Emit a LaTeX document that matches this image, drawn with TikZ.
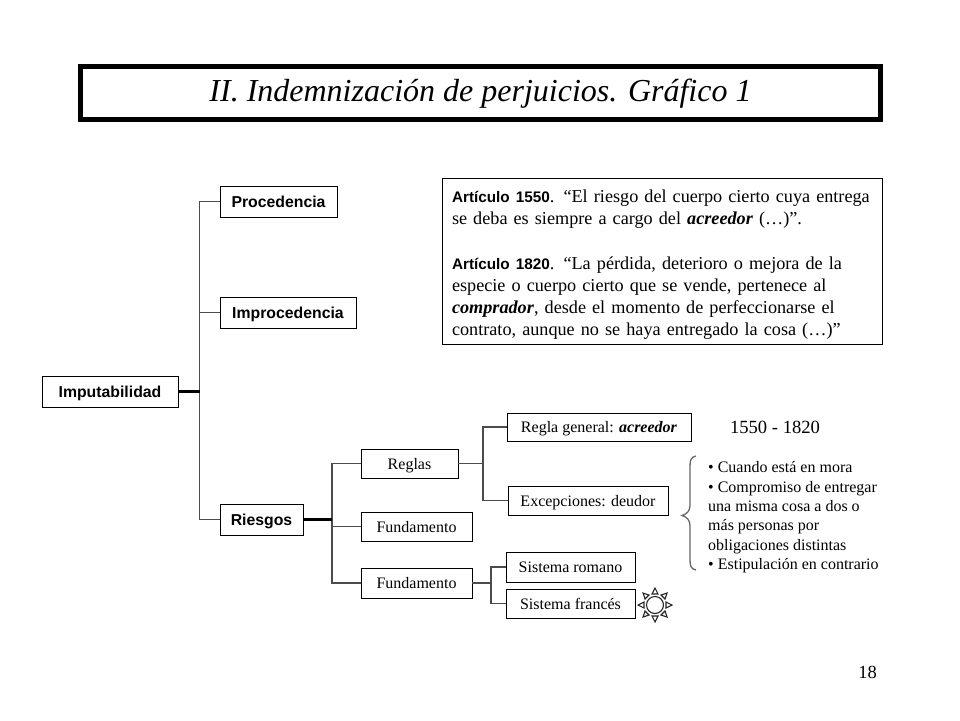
\documentclass[tikz,border=0pt]{standalone}
\usepackage{fontspec}
\usepackage{xcolor}
\setmainfont{Liberation Serif}
\setsansfont{Liberation Sans}
\usetikzlibrary{positioning}
\tikzset{
	box/.style={draw=black, line width=0.9pt, fill=white, inner sep=0pt, align=center},
	boldbox/.style={box, text height=12pt, text depth=1pt, font=\fontsize{15.8}{16}\selectfont\sffamily\bfseries},
	plainbox/.style={box, text height=12pt, text depth=1pt, font=\fontsize{16}{16}\selectfont},
	wire/.style={draw=black!70, line width=1.2pt},
	heavywire/.style={draw=black, line width=2.2pt},
	sunray/.style={draw=black!85, line width=1.1pt, fill=white, line join=miter},
}

\begin{document}
\begin{tikzpicture}[x=1pt, y=-1pt]
		% Paths, nodes and wires:
		\useasboundingbox (0, 0) rectangle (960, 720);
		\node[draw=black, line width=5pt, minimum width=800pt, minimum height=53pt, inner sep=0pt, text height=24pt, text depth=8pt, font=\fontsize{32}{36}\selectfont\itshape](Title) at (480.5, 93){II. Indemnización de perjuicios. Gráfico 1};
		\node[boldbox, minimum width=117pt, minimum height=31pt](Procedencia) at (278.5, 201.5){Procedencia};
		\node[boldbox, minimum width=136pt, minimum height=31pt](Improcedencia) at (288, 312.5){Improcedencia};
		\node[boldbox, minimum width=136pt, minimum height=31pt](Imputabilidad) at (110, 391.5){Imputabilidad};
		\node[boldbox, minimum width=83pt, minimum height=31pt](Riesgos) at (261.5, 519.5){Riesgos};
		\node[plainbox, minimum width=97pt, minimum height=29pt](Reglas) at (409.5, 463.5){Reglas};
		\node[plainbox, minimum width=111pt, minimum height=29pt](FundamentoA) at (416.5, 526.5){Fundamento};
		\node[plainbox, minimum width=111pt, minimum height=30pt](FundamentoB) at (416.5, 583){Fundamento};
		\node[plainbox, minimum width=184pt, minimum height=28pt](ReglaGeneral) at (599, 427){Regla general: \textbf{\textit{acreedor}}};
		\node[plainbox, minimum width=160pt, minimum height=29pt](Excepciones) at (588, 500.5){Excepciones: deudor};
		\node[plainbox, minimum width=129pt, minimum height=30pt](Romano) at (570.5, 567){Sistema romano};
		\node[plainbox, minimum width=129pt, minimum height=29pt](Frances) at (570.5, 603.5){Sistema francés};
		\node[box, minimum width=440pt, minimum height=166pt, text width=420pt, align=left, font=\fontsize{18.2}{22.2}\selectfont](Articulos) at (662, 261){\rule{0pt}{20pt}{\fontsize{15.3}{22.2}\selectfont\sffamily\bfseries Artículo 1550}. “El riesgo del cuerpo cierto cuya entrega\\se deba es siempre a cargo del \textbf{\textit{acreedor}} (…)”.\\[22.2pt]{\fontsize{15.3}{22.2}\selectfont\sffamily\bfseries Artículo 1820}. “La pérdida, deterioro o mejora de la\\especie o cuerpo cierto que se vende, pertenece al\\\textbf{\textit{comprador}}, desde el momento de perfeccionarse el\\contrato, aunque no se haya entregado la cosa (…)”};
		\node[font=\fontsize{18.6}{20}\selectfont](Rango) at (775, 427){1550 - 1820};
		\node[anchor=north west, inner sep=0pt, align=left, font=\fontsize{16}{19.3}\selectfont](Lista) at (708, 461.5){• Cuando está en mora\\• Compromiso de entregar\\una misma cosa a dos o\\más personas por\\obligaciones distintas\\• Estipulación en contrario};
		\node[font=\fontsize{18.5}{20}\selectfont](Pagina) at (867.5, 672){18};
		\coordinate (JoinA) at (199.5, 391.5);
		\coordinate (JoinB) at (332, 519.5);
		\coordinate (JoinC) at (483, 463.5);
		\coordinate (JoinD) at (491, 583);
		\draw[wire] (JoinA) |- (Procedencia.west);
		\draw[wire] (JoinA) -- (Improcedencia.west -| JoinA);
		\draw[wire] (Improcedencia.west -| JoinA) -- (Improcedencia.west);
		\draw[wire] (JoinA) |- (Riesgos.west);
		\draw[heavywire] (Imputabilidad.east) -- (JoinA);
		\draw[wire] (JoinB) |- (Reglas.west);
		\draw[wire] (JoinB) |- (FundamentoA.west);
		\draw[wire] (JoinB) |- (FundamentoB.west);
		\draw[heavywire] (Riesgos.east) -- (JoinB);
		\draw[wire] (Reglas.east) -- (JoinC);
		\draw[wire] (JoinC) |- (ReglaGeneral.west);
		\draw[wire] (JoinC) |- (Excepciones.west);
		\draw[wire] (FundamentoB.east) -- (JoinD);
		\draw[wire] (JoinD) |- (Romano.west);
		\draw[wire] (JoinD) |- (Frances.west);
		\draw[draw=black!60, line width=1.3pt] (696, 456) .. controls (691, 457) and (690, 460) .. (690, 466) -- (690, 505) .. controls (690, 511) and (687, 514) .. (682, 515.5) .. controls (687, 517) and (690, 520) .. (690, 526) -- (690, 560) .. controls (690, 566) and (691, 569) .. (696, 570);
		\draw[draw=black!85, line width=1.1pt] (655, 605) circle (8.5);
		\draw[sunray] (666, 602) -- (672, 605) -- (666, 608) -- cycle;
		\draw[sunray] (644, 602) -- (638, 605) -- (644, 608) -- cycle;
		\draw[sunray] (652, 594) -- (655, 588) -- (658, 594) -- cycle;
		\draw[sunray] (652, 616) -- (655, 622) -- (658, 616) -- cycle;
		\draw[sunray] (661, 595) -- (667, 593) -- (665, 599) -- cycle;
		\draw[sunray] (649, 595) -- (643, 593) -- (645, 599) -- cycle;
		\draw[sunray] (661, 615) -- (667, 617) -- (665, 611) -- cycle;
		\draw[sunray] (649, 615) -- (643, 617) -- (645, 611) -- cycle;
	\end{tikzpicture}
\end{document}
